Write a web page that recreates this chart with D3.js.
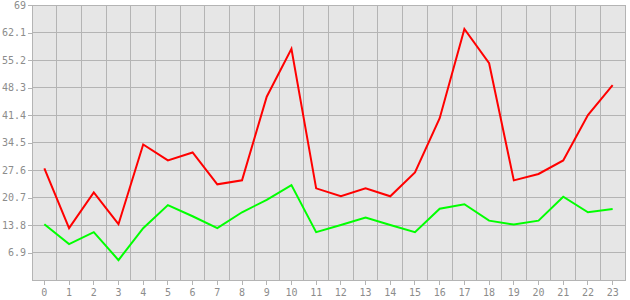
<!DOCTYPE html>
<html>
<head>
<meta charset="utf-8">
<script src="https://cdn.jsdelivr.net/npm/d3@7"></script>
<style>
  body { margin: 0; background: #fff; }
  svg text { font-family: "DejaVu Sans Mono", monospace; font-size: 10px; fill: #8c8c8c; }
</style>
</head>
<body>
<div id="chart"></div>
<script>
const categories = d3.range(24).map(String);
const redValues = [28, 13, 22, 14, 34, 30, 32, 24, 25, 46, 58, 23, 21, 23, 21, 27, 40.6, 63, 54.4, 25, 26.6, 30, 41.4, 48.9];
const greenValues = [14, 9, 12, 5, 13, 18.8, 16, 13, 17, 20.1, 23.8, 12, 13.8, 15.7, 13.8, 12, 17.9, 19, 14.9, 13.9, 14.9, 20.9, 17, 17.8];
const yTicks = [6.9, 13.8, 20.7, 27.6, 34.5, 41.4, 48.3, 55.2, 62.1, 69];

const width = 630;
const height = 300;
const plotLeft = 32, plotRight = 625, plotTop = 5, plotBottom = 280;

const svg = d3.select("#chart")
    .append("svg")
    .attr("width", width)
    .attr("height", height);

const xScale = d3.scaleBand()
    .domain(categories)
    .range([plotLeft, plotRight]);

const yScale = d3.scaleLinear()
    .domain([0, 69])
    .range([plotBottom, plotTop]);

// plot background
svg.append("rect")
    .attr("x", plotLeft)
    .attr("y", plotTop)
    .attr("width", plotRight - plotLeft)
    .attr("height", plotBottom - plotTop)
    .attr("fill", "#e6e6e6");

// vertical grid at band edges
svg.append("g")
    .selectAll("line")
    .data(categories.slice(1).concat(["end"]))
    .enter()
    .append("line")
    .attr("x1", d => d === "end" ? plotRight : xScale(d))
    .attr("x2", d => d === "end" ? plotRight : xScale(d))
    .attr("y1", plotTop)
    .attr("y2", plotBottom)
    .attr("stroke", "#b4b4b4")
    .attr("stroke-width", 1)
    .attr("shape-rendering", "crispEdges");

// horizontal grid
svg.append("g")
    .selectAll("line")
    .data(yTicks)
    .enter()
    .append("line")
    .attr("x1", plotLeft)
    .attr("x2", plotRight)
    .attr("y1", d => yScale(d))
    .attr("y2", d => yScale(d))
    .attr("stroke", "#b4b4b4")
    .attr("stroke-width", 1)
    .attr("shape-rendering", "crispEdges");

// axes
const xAxis = d3.axisBottom(xScale).tickSize(5).tickPadding(4).tickSizeOuter(0);
const yAxis = d3.axisLeft(yScale).tickValues(yTicks).tickFormat(d => d).tickSize(4).tickPadding(2).tickSizeOuter(0);

const gx = svg.append("g")
    .attr("transform", `translate(0, ${plotBottom})`)
    .call(xAxis);

const gy = svg.append("g")
    .attr("transform", `translate(${plotLeft}, 0)`)
    .call(yAxis);

[gx, gy].forEach(g => {
    g.selectAll("path, line")
        .attr("stroke", "#b4b4b4")
        .attr("shape-rendering", "crispEdges");
    g.selectAll("text").attr("fill", "#8c8c8c").style("font-size", "10px");
});

const line = d3.line()
    .x((d, i) => xScale(categories[i]) + xScale.bandwidth() / 2)
    .y(d => yScale(d));

svg.append("path")
    .datum(greenValues)
    .attr("d", line)
    .attr("fill", "none")
    .attr("stroke", "#00ff00")
    .attr("stroke-width", 2);

svg.append("path")
    .datum(redValues)
    .attr("d", line)
    .attr("fill", "none")
    .attr("stroke", "#ff0000")
    .attr("stroke-width", 2);
</script>
</body>
</html>
